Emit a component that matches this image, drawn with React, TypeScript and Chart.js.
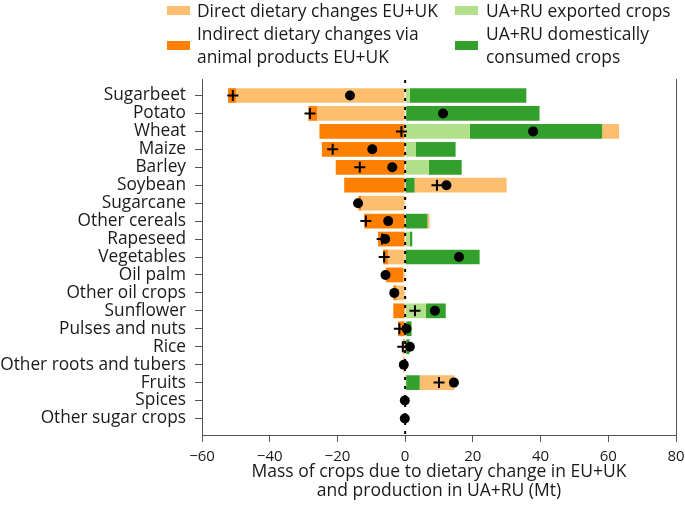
import React, { useEffect, useRef } from 'react';
import { Chart, registerables } from 'chart.js';

Chart.register(...registerables);

// ---------- data (Mt) ----------
const categories = [
  'Sugarbeet', 'Potato', 'Wheat', 'Maize', 'Barley', 'Soybean', 'Sugarcane',
  'Other cereals', 'Rapeseed', 'Vegetables', 'Oil palm', 'Other oil crops',
  'Sunflower', 'Pulses and nuts', 'Rice', 'Other roots and tubers', 'Fruits',
  'Spices', 'Other sugar crops',
];

const exportedUARU = [1.4, 0.3, 19.1, 3.2, 7.0, 0, 0, 0, 1.4, 0, 0, 0, 6.1, 0.3, 0.3, 0, 0.3, 0, 0];
const domesticUARU = [34.4, 39.4, 39.1, 11.7, 9.7, 2.8, 0, 6.6, 0.7, 22.0, 0, 0, 5.9, 1.6, 1.0, 0, 4.0, 0, 0];
const directEUUK = [-49.9, -25.9, 5.0, 0, 0, 27.2, -12.9, 0.6, 0, -5.0, -0.5, -2.5, 0, 0, -0.2, -0.2, 10.3, 0, 0];
const indirectEUUK = [-2.4, -2.7, -25.3, -24.6, -20.5, -18.0, -0.9, -12.1, -8.0, -1.5, -5.2, -1.0, -3.5, -2.1, -0.4, -0.3, 0, -0.1, 0];

const dotMarkers = [-16.3, 11.2, 37.8, -9.7, -3.8, 12.2, -13.9, -5.0, -5.9, 15.9, -5.8, -3.2, 8.8, 0.4, 1.4, -0.4, 14.4, -0.1, -0.1];
const plusMarkers = [-50.9, -28.1, -1.1, -21.4, -13.4, 9.4, null, -11.6, -6.8, -6.2, null, null, 2.9, -1.7, -0.7, null, 10.0, null, null];

const xTickValues = [-60, -40, -20, 0, 20, 40, 60, 80];

const legendLeft = [
  { lines: ['Direct dietary changes EU+UK'], color: '#fdbf6f' },
  { lines: ['Indirect dietary changes via', 'animal products EU+UK'], color: '#ff7f00' },
];
const legendRight = [
  { lines: ['UA+RU exported crops'], color: '#b2df8a' },
  { lines: ['UA+RU domestically', 'consumed crops'], color: '#33a02c' },
];

const FONT = '"Open Sans", sans-serif';
const TEXT = '#1a1a1a';
const AXIS = '#555555';

const toPoints = (arr: (number | null)[]) =>
  arr.map((v, i) => (v === null ? null : { x: v, y: i })).filter((p) => p !== null);

const fmtTick = (v: number) => (v < 0 ? '\u2212' + Math.abs(v) : String(v));

const overlayPlugin = {
  id: 'overlayLines',
  afterDatasetsDraw(chart: any) {
    const { ctx, chartArea, scales } = chart;
    const x0 = scales.x.getPixelForValue(0);
    ctx.save();
    ctx.strokeStyle = '#000';
    ctx.lineWidth = 2;
    ctx.setLineDash([3, 6]);
    ctx.beginPath();
    ctx.moveTo(x0, chartArea.top + 1);
    ctx.lineTo(x0, chartArea.bottom);
    ctx.stroke();
    ctx.setLineDash([]);
    ctx.lineWidth = 1;
    ctx.strokeStyle = AXIS;
    const xr = Math.round(chartArea.right) + 0.5;
    ctx.beginPath();
    ctx.moveTo(xr, chartArea.top);
    ctx.lineTo(xr, chartArea.bottom);
    ctx.stroke();
    ctx.restore();
  },
};

export default function App() {
  const canvasRef = useRef<HTMLCanvasElement | null>(null);

  useEffect(() => {
    if (!canvasRef.current) return;
    const barCommon = { type: 'bar', stack: 'bars', order: 1, borderWidth: 0, barPercentage: 0.82, categoryPercentage: 1 };
    const chart = new Chart(canvasRef.current, {
      type: 'bar',
      data: {
        datasets: [
          { ...barCommon, label: 'UA+RU exported crops', data: toPoints(exportedUARU), backgroundColor: '#b2df8a' },
          { ...barCommon, label: 'UA+RU domestically consumed crops', data: toPoints(domesticUARU), backgroundColor: '#33a02c' },
          { ...barCommon, label: 'Direct dietary changes EU+UK', data: toPoints(directEUUK), backgroundColor: '#fdbf6f' },
          { ...barCommon, label: 'Indirect dietary changes via animal products EU+UK', data: toPoints(indirectEUUK), backgroundColor: '#ff7f00' },
          {
            type: 'line', label: 'dots', indexAxis: 'y', stack: 'dots', order: 0,
            data: toPoints(dotMarkers), showLine: false,
            pointStyle: 'circle', pointRadius: 5, pointBackgroundColor: '#000', pointBorderWidth: 0,
          },
          {
            type: 'line', label: 'plus', indexAxis: 'y', stack: 'plus', order: 0,
            data: toPoints(plusMarkers), showLine: false,
            pointStyle: 'cross', pointRadius: 5.5, pointBorderColor: '#000', pointBorderWidth: 2,
          },
        ] as any,
      },
      options: {
        indexAxis: 'y',
        animation: false,
        responsive: false,
        maintainAspectRatio: false,
        devicePixelRatio: 1,
        layout: { padding: { top: 79, right: 9, left: 0, bottom: 0 } },
        plugins: { legend: { display: false }, tooltip: { enabled: false } },
        scales: {
          x: {
            type: 'linear',
            stacked: true,
            min: -60,
            max: 80,
            bounds: 'data',
            offset: false,
            afterBuildTicks: (s: any) => { s.ticks = xTickValues.map((v) => ({ value: v })); },
            ticks: {
              callback: (v: any) => fmtTick(Number(v)),
              font: { family: FONT, size: 15 },
              color: TEXT,
              padding: 6,
              maxRotation: 0,
              autoSkip: false,
            },
            grid: { drawOnChartArea: false, drawTicks: true, tickLength: 7, color: AXIS, offset: false },
            border: { display: true, color: AXIS, width: 1 },
            title: {
              display: true,
              text: ['Mass of crops due to dietary change in EU+UK', 'and production in UA+RU (Mt)'],
              font: { family: FONT, size: 17.5, lineHeight: 1.05 },
              color: TEXT,
              padding: { top: 0, bottom: 13 },
            },
            afterFit: (s: any) => { s.height = 78; s.paddingLeft = 0; s.paddingRight = 0; },
          },
          y: {
            type: 'linear',
            stacked: true,
            reverse: true,
            min: -0.92,
            max: 18.92,
            bounds: 'data',
            offset: false,
            afterBuildTicks: (s: any) => { s.ticks = categories.map((_, i) => ({ value: i })); },
            ticks: {
              callback: (v: any) => categories[Number(v)] ?? '',
              font: { family: FONT, size: 17.3, lineHeight: 1 },
              color: TEXT,
              padding: 9,
              autoSkip: false,
            },
            grid: { drawOnChartArea: false, drawTicks: true, tickLength: 7, color: AXIS, offset: false },
            border: { display: true, color: AXIS, width: 1 },
            afterFit: (s: any) => { s.width = 202; s.paddingTop = 0; s.paddingBottom = 0; },
          },
        },
      } as any,
      plugins: [overlayPlugin],
    });
    return () => chart.destroy();
  }, []);

  const patch = (left: number, top: number, color: string) => (
    <div style={{ position: 'absolute', left, top, width: 23, height: 9, background: color }} />
  );
  const text = (left: number, top: number, lines: string[]) => (
    <div
      style={{
        position: 'absolute', left, top, fontFamily: FONT, fontSize: 17.4,
        lineHeight: '22.5px', color: TEXT, whiteSpace: 'nowrap',
      }}
    >
      {lines.map((l, i) => (<div key={i}>{l}</div>))}
    </div>
  );

  return (
    <div style={{ position: 'absolute', left: 0, top: 0, width: 685, height: 513, background: '#fff', overflow: 'hidden' }}>
      <canvas ref={canvasRef} width={685} height={513} style={{ display: 'block', width: 685, height: 513 }} />
      {patch(167, 5.5, legendLeft[0].color)}
      {text(197, -1.25, legendLeft[0].lines)}
      {patch(167, 40.5, legendLeft[1].color)}
      {text(197, 22.25, legendLeft[1].lines)}
      {patch(455, 5.5, legendRight[0].color)}
      {text(486, -1.25, legendRight[0].lines)}
      {patch(455, 40.5, legendRight[1].color)}
      {text(486, 22.25, legendRight[1].lines)}
    </div>
  );
}
